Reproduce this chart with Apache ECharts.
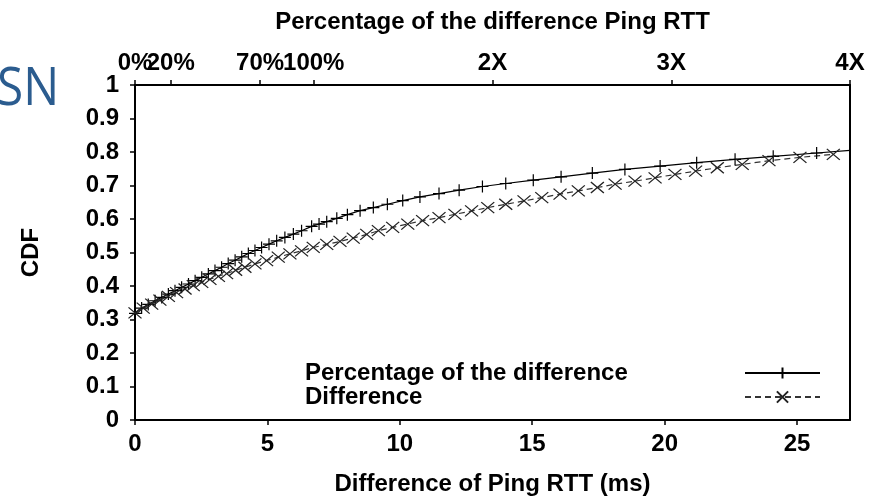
<!DOCTYPE html>
<html>
<head>
<meta charset="utf-8">
<script src="https://cdn.jsdelivr.net/npm/echarts@6/dist/echarts.min.js"></script>
<style>
html,body{margin:0;padding:0;background:#fff;}
#chart{width:880px;height:501px;}
</style>
</head>
<body>
<div id="chart"></div>
<script>
// ---- data ----
const pctX = [0.00,0.25,0.50,0.76,1.01,1.26,1.51,1.76,2.02,2.27,2.52,2.77,3.02,3.27,3.52,3.78,4.03,4.28,4.53,4.78,5.06,5.35,5.66,5.98,6.29,6.67,6.95,7.24,7.62,8.02,8.50,9.00,9.53,10.11,10.76,11.48,12.24,13.12,14.00,15.04,16.09,17.27,18.50,19.83,21.21,22.66,24.10,25.74,27.00];
const pctY = [0.318,0.334,0.345,0.356,0.366,0.376,0.386,0.396,0.406,0.416,0.426,0.436,0.446,0.456,0.467,0.477,0.487,0.497,0.506,0.515,0.525,0.535,0.545,0.555,0.565,0.578,0.585,0.592,0.602,0.613,0.625,0.634,0.644,0.655,0.666,0.676,0.686,0.697,0.706,0.716,0.726,0.737,0.748,0.758,0.768,0.778,0.787,0.797,0.805];
const diffX = [0.00,0.31,0.63,0.94,1.26,1.57,1.89,2.20,2.52,2.83,3.15,3.46,3.80,4.15,4.53,4.97,5.41,5.85,6.29,6.73,7.24,7.74,8.24,8.75,9.19,9.73,10.30,10.86,11.48,12.08,12.71,13.32,14.00,14.69,15.36,16.05,16.74,17.46,18.13,18.88,19.64,20.39,21.17,21.99,22.93,23.94,25.11,26.37];
const diffY = [0.320,0.334,0.346,0.358,0.369,0.380,0.391,0.401,0.411,0.420,0.429,0.437,0.447,0.456,0.466,0.476,0.486,0.496,0.505,0.515,0.524,0.533,0.543,0.554,0.565,0.575,0.585,0.595,0.604,0.614,0.624,0.634,0.644,0.654,0.664,0.674,0.684,0.694,0.704,0.713,0.723,0.733,0.743,0.753,0.763,0.774,0.784,0.793];
const bottomTicks = [0,5,10,15,20,25];
const topTickValues = [0,1.35,4.725,6.75,13.5,20.25,27];
const topTickLabels = ['0%','20%','70%','100%','2X','3X','4X'];
const seriesNames = ['Percentage of the difference','Difference'];

// ---- chart ----
const FONT = '"Liberation Sans", Arial, sans-serif';
const txt = {fontFamily: FONT, fontSize: 24, fontWeight: 'bold', color: '#000'};
const axisLine = {show: true, onZero: false, lineStyle: {color: '#000', width: 2}};
const chart = echarts.init(document.getElementById('chart'), null, {renderer: 'canvas'});
const zip = (xs, ys) => xs.map((x, i) => [x, ys[i]]);
const pctData = zip(pctX, pctY);
const diffData = zip(diffX, diffY);
const topLabel = v => { const i = topTickValues.findIndex(t => Math.abs(t - v) < 1e-6); return i >= 0 ? topTickLabels[i] : ''; };
// the first top label overlaps the second one, so it lives on its own (invisible-line) axis
const topFirst = topTickValues.slice(0, 1);
const topRest = topTickValues.slice(1);

chart.setOption({
  animation: false,
  backgroundColor: '#fff',
  grid: {left: 135, right: 30, top: 85, bottom: 79, containLabel: false},
  graphic: [{
    type: 'text', left: -3, top: 63, scaleX: 0.9,
    style: {text: 'SN', fontFamily: '"Open Sans", "Noto Sans", sans-serif', fontSize: 53, fill: '#2B5C8F'}
  }],
  legend: {
    orient: 'vertical', align: 'right', left: 305, top: 361, padding: 0,
    itemGap: 0, itemWidth: 75, itemHeight: 14,
    data: seriesNames,
    formatter: name => '{a|' + name + '}',
    textStyle: Object.assign({}, txt, {lineHeight: 24, rich: {a: Object.assign({}, txt, {width: 435, align: 'left', lineHeight: 24})}}),
    selectedMode: false
  },
  xAxis: [{
    type: 'value', position: 'bottom', min: 0, max: 27,
    name: 'Difference of Ping RTT (ms)', nameLocation: 'middle', nameGap: 52,
    nameTextStyle: txt,
    axisLine: axisLine,
    axisTick: {show: true, inside: false, length: 5, customValues: bottomTicks, lineStyle: {color: '#000', width: 1.5}},
    axisLabel: Object.assign({}, txt, {margin: 12, customValues: bottomTicks, hideOverlap: false}),
    splitLine: {show: false}
  }, {
    type: 'value', position: 'top', min: 0, max: 27,
    name: 'Percentage of the difference Ping RTT', nameLocation: 'middle', nameGap: 51,
    nameTextStyle: txt,
    axisLine: axisLine,
    axisTick: {show: true, inside: false, length: 5, customValues: topTickValues, lineStyle: {color: '#000', width: 1.5}},
    axisLabel: Object.assign({}, txt, {margin: 10, customValues: topRest, hideOverlap: false,
      showMinLabel: true, showMaxLabel: true, formatter: topLabel}),
    splitLine: {show: false}
  }, {
    type: 'value', position: 'top', min: 0, max: 27,
    axisLine: {show: false},
    axisTick: {show: false},
    axisLabel: Object.assign({}, txt, {margin: 10, customValues: topFirst, hideOverlap: false,
      showMinLabel: true, formatter: topLabel}),
    splitLine: {show: false}
  }],
  yAxis: [{
    type: 'value', position: 'left', min: 0, max: 1, interval: 0.1,
    name: 'CDF', nameLocation: 'middle', nameGap: 92, nameRotate: 90,
    nameTextStyle: txt,
    axisLine: axisLine,
    axisTick: {show: true, inside: false, length: 5, lineStyle: {color: '#000', width: 1.5}},
    axisLabel: Object.assign({}, txt, {margin: 16, hideOverlap: false}),
    splitLine: {show: false}
  }, {
    type: 'value', position: 'right', min: 0, max: 1,
    axisLine: axisLine,
    axisTick: {show: false}, axisLabel: {show: false}, splitLine: {show: false}
  }],
  series: [{
    name: seriesNames[0], type: 'line', xAxisIndex: 0, yAxisIndex: 0,
    data: pctData,
    symbol: 'path://M5,0V10M0,5H10',
    symbolSize: (v, p) => (p.dataIndex === pctData.length - 1 ? 0 : 12),
    showSymbol: true,
    lineStyle: {color: '#000', width: 1.2},
    itemStyle: {color: 'transparent', borderColor: '#000', borderWidth: 1.2},
    emphasis: {disabled: true}
  }, {
    name: seriesNames[1], type: 'line', xAxisIndex: 0, yAxisIndex: 0,
    data: diffData,
    symbol: 'path://M0,0L10,10M10,0L0,10',
    symbolSize: [13, 11],
    showSymbol: true,
    lineStyle: {color: '#333', width: 1.2, type: [6, 4]},
    itemStyle: {color: 'transparent', borderColor: '#222', borderWidth: 1.2},
    emphasis: {disabled: true}
  }]
});
</script>
</body>
</html>
